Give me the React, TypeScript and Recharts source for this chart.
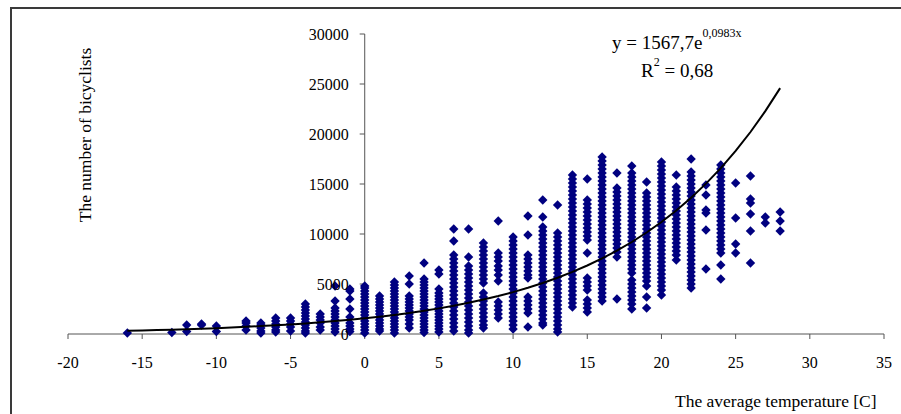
import { ReferenceLine, Scatter, ScatterChart, XAxis, YAxis } from "recharts";

const SERIF = "'Liberation Serif', 'Times New Roman', serif";
const POINT_COLOR = "#000080";
const AXIS_COLOR = "#555";

// bicyclists counted per day, grouped by average temperature [C]
const frostyDays: [number, number[]][] = [
  [-16, [100]],
  [-13, [150]],
  [-12, [900, 250]],
  [-11, [1000, 900]],
  [-10, [800, 250]],
  [-8, [1300, 1100, 800, 400]],
  [-7, [1100, 900, 600, 300, 100]],
  [-6, [1600, 1300, 1000, 700, 400, 200]],
  [-5, [1600, 1300, 1000, 700, 300]],
  [-4, [3000, 2700, 2400, 2100, 1800, 1500, 1200, 900, 600, 300, 100]],
  [-3, [2000, 1700, 1400, 1100, 700, 400]],
  [-2, [4800, 3300, 2600, 2300, 2000, 1700, 1400, 1100, 800, 500, 200]],
  [-1, [4500, 4300, 3500, 2500, 1700, 1100, 800, 500, 250]],
];

const coolDays: [number, number[]][] = [
  [0, [4800, 4600, 4300, 4000, 3700, 3400, 3100, 2800, 2500, 2200, 1900, 1600, 1300, 1000, 700, 400, 100]],
  [1, [3800, 3500, 3200, 2900, 2600, 2300, 2000, 1700, 1400, 1100, 800, 500, 300]],
  [2, [5200, 4900, 4600, 4300, 4000, 3700, 3400, 3100, 2800, 2500, 2200, 1900, 1600, 1300, 1000, 700, 400, 100]],
  [3, [5800, 5000, 3800, 3500, 3200, 2900, 2600, 2300, 2000, 1700, 1400, 1000, 600]],
  [4, [7100, 5500, 5200, 4900, 4600, 4300, 4000, 3700, 3400, 3100, 2800, 2500, 2200, 1900, 1600, 1300, 1000, 700, 400, 150]],
  [5, [6400, 6000, 4500, 4100, 3800, 3500, 3200, 2900, 2600, 2300, 2000, 1700, 1400, 1100, 800, 500, 200]],
  [6, [10500, 9300, 7900, 7500, 7100, 6700, 6300, 5900, 5500, 5100, 4700, 4300, 3900, 3500, 3100, 2700, 2300, 1900, 1500, 1100, 700, 300]],
  [7, [10500, 7700, 6800, 6400, 6000, 5600, 5200, 4800, 4400, 4000, 3600, 3200, 2800, 2400, 2000, 1600, 1200, 800, 400, 100]],
  [8, [9100, 8700, 8300, 7900, 7500, 7100, 6700, 6300, 5900, 5500, 5100, 4100, 3700, 3300, 2900, 2500, 2100, 1700, 1300, 900, 600]],
  [9, [11300, 8100, 7700, 7300, 6800, 6400, 5900, 5300, 3200, 2800, 2400, 2000, 1600]],
];

const mildDays: [number, number[]][] = [
  [10, [9700, 9300, 8900, 8500, 8100, 7700, 7300, 6900, 6500, 6100, 5700, 5300, 4900, 4500, 4100, 3700, 3300, 2900, 2500, 2100, 1700, 1300, 900, 500]],
  [11, [11800, 9900, 7900, 7500, 7100, 6700, 6300, 5900, 5600, 3700, 3300, 2900, 2500, 2100, 700]],
  [12, [13400, 11700, 10700, 10300, 9900, 9500, 9100, 8700, 8300, 7900, 7500, 7100, 6700, 6300, 5900, 5500, 5100, 4700, 4300, 3900, 3500, 3100, 2700, 2300, 1900, 1500, 1100, 900]],
  [13, [12900, 10100, 9700, 9300, 8900, 8500, 8100, 7700, 7300, 6900, 6500, 6100, 5700, 5300, 4900, 4500, 4100, 3700, 3300, 2900, 2500, 2100, 1700, 1300, 900, 500, 200]],
  [14, [15900, 15500, 15100, 14700, 14300, 13900, 13500, 13100, 12700, 12300, 11900, 11500, 11100, 10700, 10300, 9900, 9500, 9100, 8700, 8300, 7900, 7500, 7100, 6700, 6300, 5900, 5500, 5100, 4700, 4300, 3900, 3500, 3100, 2700]],
  [15, [15500, 13400, 13000, 12600, 12200, 11800, 11400, 11000, 10600, 10200, 9800, 9400, 8100, 5600, 5200, 4800, 4400, 3400, 3000, 2600, 2200]],
  [16, [17700, 17300, 16900, 16500, 16100, 15700, 15300, 14900, 14500, 14100, 13700, 13300, 12900, 12500, 12100, 11700, 11300, 10900, 10500, 10100, 9700, 9300, 8900, 8500, 8100, 7700, 7300, 6900, 6500, 6100, 5700, 5300, 4900, 4500, 4100, 3700, 3300]],
  [17, [16100, 14600, 14200, 13800, 13400, 13000, 12600, 12200, 11800, 11400, 11000, 10600, 10200, 9800, 9400, 9000, 8600, 8200, 7700, 3500]],
];

const warmDays: [number, number[]][] = [
  [18, [16800, 16100, 15700, 15300, 14900, 14500, 14100, 13700, 13300, 12900, 12500, 12100, 11700, 11300, 10900, 10500, 10100, 9700, 9300, 8900, 8500, 8100, 7700, 7300, 6900, 6500, 6100, 5400, 5000, 4600, 4200, 3800, 3400, 3000, 2500]],
  [19, [15200, 14100, 13700, 13300, 12900, 12500, 12100, 11700, 11300, 10900, 10500, 10100, 9700, 9300, 8900, 8500, 8100, 7700, 7300, 6900, 6500, 6100, 5700, 5300, 4800, 3700, 2600]],
  [20, [17200, 16800, 16400, 16000, 15600, 15200, 14800, 14400, 14000, 13600, 13200, 12800, 12400, 12000, 11600, 11200, 10800, 10400, 10000, 9600, 9200, 8800, 8400, 8000, 7600, 7200, 6800, 6400, 6000, 5600, 5200, 4800, 4400, 3900]],
  [21, [15900, 14700, 14300, 13900, 13500, 13100, 12700, 12300, 11900, 11500, 11100, 10700, 10300, 9900, 9500, 9100, 8700, 8300, 7900, 7400]],
  [22, [17500, 16200, 15800, 15400, 15000, 14600, 14200, 13800, 13400, 13000, 12600, 12200, 11800, 11400, 11000, 10600, 10200, 9800, 9400, 9000, 8600, 8200, 7800, 7400, 7000, 6600, 6200, 5800, 5400, 5000, 4600]],
  [23, [14900, 13900, 12400, 12100, 10400, 6500]],
  [24, [16900, 16500, 16100, 15700, 15300, 14900, 14500, 14100, 13700, 13300, 12900, 12500, 12100, 11700, 11300, 10900, 10500, 10100, 9700, 9300, 8900, 8500, 8100, 6900, 5500]],
  [25, [15100, 11600, 9000, 8100]],
  [26, [15800, 13500, 13100, 12000, 10300, 7100]],
  [27, [11700, 11100]],
  [28, [12200, 11300, 10300]],
];

// exponential trend y = 1567,7e^(0,0983x), one value per degree from -16 to 28
const trendTemps = [
  -16, -15, -14, -13, -12, -11, -10, -9, -8, -7, -6, -5, -4, -3, -2, -1, 0, 1, 2, 3, 4, 5, 6, 7, 8, 9, 10, 11,
  12, 13, 14, 15, 16, 17, 18, 19, 20, 21, 22, 23, 24, 25, 26, 27, 28,
];
const trendValues = [
  325, 359, 396, 437, 482, 532, 587, 647, 714, 788, 869, 959, 1058, 1168, 1288, 1421, 1568, 1730, 1908, 2105,
  2323, 2563, 2828, 3120, 3442, 3798, 4190, 4623, 5100, 5627, 6208, 6850, 7557, 8338, 9199, 10150, 11198,
  12355, 13631, 15039, 16593, 18307, 20198, 22285, 24587,
];

const xTicks = [-20, -15, -10, -5, 0, 5, 10, 15, 20, 25, 30, 35];
const yTicks = [0, 5000, 10000, 15000, 20000, 25000, 30000];

const points = [...frostyDays, ...coolDays, ...mildDays, ...warmDays].flatMap(([t, vals]) =>
  vals.map((v) => ({ x: t, y: v }))
);
const trend = trendTemps.map((t, i) => ({ x: t, y: trendValues[i] }));

const Diamond = (props: { cx?: number; cy?: number }) => {
  const cx = props.cx ?? 0;
  const cy = props.cy ?? 0;
  const r = 4.7;
  return (
    <polygon
      points={`${cx},${cy - r} ${cx + r},${cy} ${cx},${cy + r} ${cx - r},${cy}`}
      fill={POINT_COLOR}
    />
  );
};

export default function App() {
  return (
    <div
      style={{
        position: "absolute",
        left: 0,
        top: 0,
        width: 901,
        height: 414,
        overflow: "hidden",
        background: "#fff",
        fontFamily: SERIF,
      }}
    >
      <div
        style={{
          position: "absolute",
          left: 10,
          top: 7,
          width: 960,
          height: 500,
          borderTop: "2px solid #3a3a3a",
          borderLeft: "2px solid #3a3a3a",
        }}
      />
      <div style={{ position: "absolute", left: 0, top: 0 }}>
        <ScatterChart width={901} height={414} margin={{ top: 34, right: 17, left: 68, bottom: 50 }}>
          <XAxis
            type="number"
            dataKey="x"
            domain={[-20, 35]}
            ticks={xTicks}
            interval={0}
            height={30}
            tickSize={5}
            tickMargin={18}
            stroke={AXIS_COLOR}
            tick={{ fill: "#000", fontSize: 16, fontFamily: SERIF }}
          />
          <YAxis type="number" dataKey="y" domain={[0, 30000]} ticks={yTicks} hide width={0} />
          <ReferenceLine x={0} stroke={AXIS_COLOR} />
          {yTicks.map((v) => (
            <ReferenceLine
              key={v}
              segment={[
                { x: -0.34, y: v },
                { x: 0, y: v },
              ]}
              stroke={AXIS_COLOR}
              label={{
                value: String(v),
                position: "left",
                offset: 11,
                fill: "#000",
                fontSize: 16,
                fontFamily: SERIF,
              }}
            />
          ))}
          <Scatter data={points} shape={Diamond} isAnimationActive={false} />
          <Scatter
            data={trend}
            line={{ stroke: "#000", strokeWidth: 2 }}
            lineType="joint"
            shape={() => <g />}
            isAnimationActive={false}
          />
        </ScatterChart>
      </div>
      <svg
        width={901}
        height={414}
        style={{ position: "absolute", left: 0, top: 0, pointerEvents: "none" }}
        fontFamily={SERIF}
      >
        <text x={0} y={0} transform="translate(91,135) rotate(-90)" textAnchor="middle" fontSize={17.5} fill="#000">
          The number of bicyclists
        </text>
        <text x={675} y={406.5} fontSize={17.5} fill="#000">
          The average temperature [C]
        </text>
        <text x={612} y={48.5} fontSize={19} fill="#000">
          y = 1567,7e
          <tspan dy={-12} fontSize={12}>
            0,0983x
          </tspan>
        </text>
        <text x={641} y={76.5} fontSize={19} fill="#000">
          R
          <tspan dy={-11} fontSize={12}>
            2
          </tspan>
          <tspan dy={11} fontSize={19}>
            {" = 0,68"}
          </tspan>
        </text>
      </svg>
    </div>
  );
}
